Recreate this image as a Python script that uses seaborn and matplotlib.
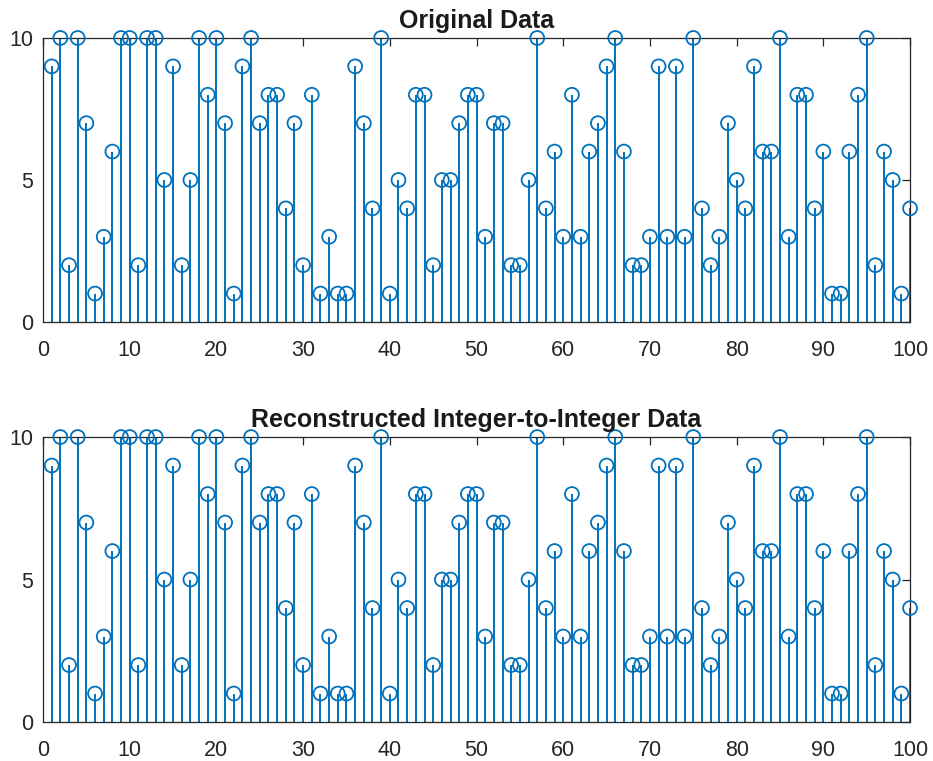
import numpy as np
import pandas as pd
import seaborn as sns
import matplotlib.pyplot as plt

idx = list(range(1, 101))
original = [9, 10, 2, 10, 7, 1, 3, 6, 10, 10,
            2, 10, 10, 5, 9, 2, 5, 10, 8, 10,
            7, 1, 9, 10, 7, 8, 8, 4, 7, 2,
            8, 1, 3, 1, 1, 9, 7, 4, 10, 1,
            5, 4, 8, 8, 2, 5, 5, 7, 8, 8,
            3, 7, 7, 2, 2, 5, 10, 4, 6, 3,
            8, 3, 6, 7, 9, 10, 6, 2, 2, 3,
            9, 3, 9, 3, 10, 4, 2, 3, 7, 5,
            4, 9, 6, 6, 10, 3, 8, 8, 4, 6,
            1, 1, 6, 8, 10, 2, 6, 5, 1, 4]
# the reconstruction is lossless, so it matches the original
reconstructed = list(original)

titles = ['Original Data', 'Reconstructed Integer-to-Integer Data']
xticks = [0, 10, 20, 30, 40, 50, 60, 70, 80, 90, 100]
yticks = [0, 5, 10]

blue = '#0072BD'
dark = '#262626'

sns.set_style('white')
plt.rcParams['font.family'] = ['Liberation Sans', 'DejaVu Sans']

fig = plt.figure(figsize=(9.33, 7.61), dpi=100)
ax1 = fig.add_axes([0.0461, 0.5769, 0.9293, 0.3732])
ax2 = fig.add_axes([0.0461, 0.0512, 0.9293, 0.3745])

for ax, vals, title in zip([ax1, ax2], [original, reconstructed], titles):
    df = pd.DataFrame({'n': idx, 'value': vals})
    ax.vlines(df['n'], 0, df['value'], color=blue, lw=1.4, zorder=2)
    sns.scatterplot(data=df, x='n', y='value', ax=ax, marker='o', s=100,
                    facecolors='none', edgecolor=blue, linewidth=1.3,
                    zorder=3, clip_on=False, legend=False)
    ax.set_xlim(0, 100)
    ax.set_ylim(0, 10)
    ax.set_xticks(xticks)
    ax.set_yticks(yticks)
    ax.set_xlabel('')
    ax.set_ylabel('')
    ax.set_title(title, fontsize=18, fontweight='bold', color='#1a1a1a', pad=7)
    for s in ax.spines.values():
        s.set_color(dark)
        s.set_linewidth(0.9)
        s.set_visible(True)
    ax.tick_params(direction='in', length=6, width=0.9, top=True, right=True,
                   color=dark, labelcolor=dark, labelsize=15.5)
    ax.tick_params(axis='x', pad=13)
    ax.tick_params(axis='y', pad=7)
    ax.grid(False)

fig.savefig('out.png', dpi=100)
